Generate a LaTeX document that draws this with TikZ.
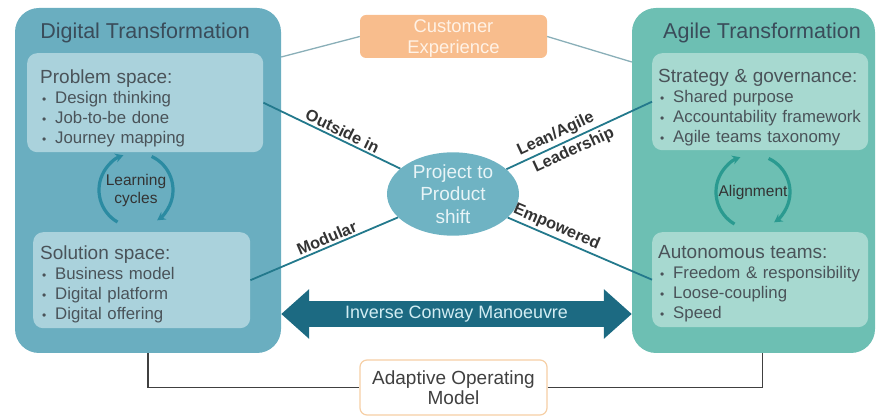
\documentclass[tikz,border=0pt]{standalone}
\usepackage{fontspec}
\setmainfont{Liberation Sans}
\usetikzlibrary{arrows.meta,shapes.geometric}
\definecolor{dtblue}{HTML}{6AAEC0}
\definecolor{dtlight}{HTML}{AAD2DC}
\definecolor{atgreen}{HTML}{6DBFB3}
\definecolor{atlight}{HTML}{A7D9D0}
\definecolor{titlegrey}{HTML}{3A4C5A}
\definecolor{bodygrey}{HTML}{4A5359}
\definecolor{projfill}{HTML}{6FB3C3}
\definecolor{projtext}{HTML}{E8F4F7}
\definecolor{conwayblue}{HTML}{1C6A82}
\definecolor{conwaytext}{HTML}{D2EDF3}
\definecolor{cefill}{HTML}{F8BD8D}
\definecolor{cetext}{HTML}{FFF2E6}
\definecolor{adaborder}{HTML}{F6CFA5}
\definecolor{linkteal}{HTML}{23798C}
\definecolor{thinteal}{HTML}{8AAFB8}
\definecolor{cycblue}{HTML}{2B8BA2}
\definecolor{cycgreen}{HTML}{2A9A90}
\newcommand\bul{\makebox[15pt][l]{\hspace{2pt}\fontsize{12}{12}\selectfont\textbullet}}
\newcommand\hd[2]{{\fontsize{19}{20}\selectfont\rule{0pt}{#1}#2}}
\begin{document}
\begin{tikzpicture}[x=1pt, y=-1pt,
    outerbox/.style={rounded corners=24pt, inner sep=0pt},
    innerbox/.style={rounded corners=10pt, anchor=north west, align=left, inner ysep=0pt,
      text=bodygrey, font=\fontsize{16.8}{20}\selectfont},
    maintitle/.style={text=titlegrey, font=\fontsize{21.5}{24}\selectfont},
    link/.style={draw=linkteal, line width=1.8pt},
    thinlink/.style={draw=thinteal, line width=1.3pt},
    lbl/.style={text=black!80, font=\fontsize{16.3}{18}\selectfont\bfseries, inner sep=2pt},
    cyctext/.style={align=center, text=black!80, font=\fontsize{15.5}{18}\selectfont},
    conway/.style={draw=conwayblue, line width=26pt,
      {Triangle[length=28pt,width=48pt]}-{Triangle[length=28pt,width=48pt]}},
    base/.style={draw=black!75, line width=1.5pt}]
  \useasboundingbox (0,0) rectangle (879,419);

  \node[outerbox, fill=dtblue, minimum width=266, minimum height=345] (dt) at (148,180.5) {};
  \node[outerbox, fill=atgreen, minimum width=243, minimum height=345] (at) at (753.5,180.5) {};
  \node[maintitle] (dttitle) at (145,33) {Digital Transformation};
  \node[maintitle] (attitle) at (762,33) {Agile Transformation};

  \node[innerbox, fill=dtlight, minimum width=236, minimum height=99, inner xsep=13pt, text width=210pt]
    (prob) at (27,53) {\hd{26pt}{Problem space:}\\ \bul Design thinking\\ \bul Job-to-be done\\ \bul Journey mapping};
  \node[innerbox, fill=dtlight, minimum width=217, minimum height=96, inner xsep=7pt, text width=203pt]
    (sol) at (33,232) {\hd{22pt}{Solution space:}\\ \bul Business model\\ \bul Digital platform\\ \bul Digital offering};
  \node[innerbox, fill=atlight, minimum width=216, minimum height=97, inner xsep=6pt, text width=204pt]
    (strat) at (652,53) {\hd{26pt}{Strategy \& governance:}\\ \bul Shared purpose\\ \bul Accountability framework\\ \bul Agile teams taxonomy};
  \node[innerbox, fill=atlight, minimum width=216, minimum height=95, inner xsep=6pt, text width=204pt]
    (auto) at (652,232) {\hd{21pt}{Autonomous teams:}\\ \bul Freedom \& responsibility\\ \bul Loose-coupling\\ \bul Speed};

  % learning and alignment cycles
  \coordinate (lc) at (136,190);
  \coordinate (ac) at (753,192);
  \draw[cycblue, line width=3.2pt, -{Stealth[length=8pt,width=9pt]}] ([shift={(120:37)}]lc) arc[start angle=120, end angle=250, radius=37];
  \draw[cycblue, line width=3.2pt, -{Stealth[length=8pt,width=9pt]}] ([shift={(-65:37)}]lc) arc[start angle=-65, end angle=55, radius=37];
  \draw[cycgreen, line width=3.2pt, -{Stealth[length=8pt,width=9pt]}] ([shift={(120:37)}]ac) arc[start angle=120, end angle=250, radius=37];
  \draw[cycgreen, line width=3.2pt, -{Stealth[length=8pt,width=9pt]}] ([shift={(-65:37)}]ac) arc[start angle=-65, end angle=55, radius=37];
  \node[cyctext] (lctext) at (lc) {Learning\\cycles};
  \node[cyctext, font=\fontsize{15.5}{18}\selectfont] (actext) at (ac) {Alignment};

  \node[rounded corners=6pt, fill=cefill, text=cetext, align=center, minimum width=187, minimum height=43,
    inner sep=0pt, font=\fontsize{18.4}{21}\selectfont] (ce) at (453.5,36.5) {\rule{0pt}{16pt}Customer\\Experience};
  \node[ellipse, fill=projfill, text=projtext, align=center, minimum width=132, minimum height=80,
    inner sep=0pt, font=\fontsize{19}{22.5}\selectfont] (proj) at (453,194) {Project to\\Product\\shift};
  \node[rounded corners=7pt, draw=adaborder, line width=1.2pt, fill=white, text=black!75, align=center,
    minimum width=187, minimum height=55, inner sep=0pt, font=\fontsize{19}{20}\selectfont]
    (ada) at (453.5,387.5) {Adaptive Operating\\Model};

  \draw[thinlink] (ce.west) -- ([yshift=-4pt]dt.east |- prob.north);
  \draw[thinlink] (ce.east) -- ([yshift=-9pt]at.west |- strat.north);

  \draw[link] (prob.east) -- (proj) node[lbl, pos=.55, sloped, above] {Outside in};
  \draw[link] (sol.east) -- (proj) node[lbl, pos=.54, sloped, above] {Modular};
  \draw[link] (proj) -- (strat.west) node[lbl, pos=.37, sloped, above] {Lean/Agile}
    node[lbl, pos=.43, sloped, below, inner sep=3pt] {Leadership};
  \draw[link] (proj) -- (auto.west) node[lbl, pos=.31, sloped, above] {Empowered};

  \coordinate (cw) at (453,314);
  \draw[conway] (dt.east |- cw) -- (at.west |- cw)
    node[midway, text=conwaytext, font=\fontsize{17.9}{20}\selectfont] (cwtext) {Inverse Conway Manoeuvre};

  \draw[base] (dt.south) |- (ada.west);
  \draw[base] (ada.east) -| ([xshift=9pt]at.south);
\end{tikzpicture}
\end{document}
